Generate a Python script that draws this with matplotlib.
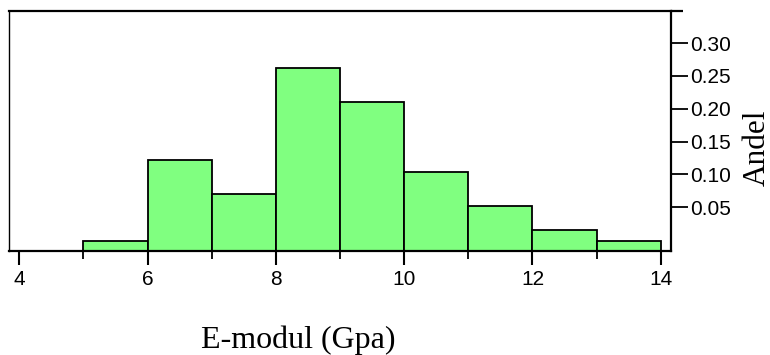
import numpy as np
import matplotlib.pyplot as plt

# histogram data: bin edges (GPa) and share of samples per bin
bin_edges = [5, 6, 7, 8, 9, 10, 11, 12, 13, 14]
andel = [0.0148, 0.1385, 0.0872, 0.278, 0.226, 0.1207, 0.069, 0.0325, 0.0148]

x_ticks = [4, 6, 8, 10, 12, 14]
x_minor = [5, 7, 9, 11, 13]
y_tick_labels = ['0.05', '0.10', '0.15', '0.20', '0.25', '0.30']
# the tick labels in the source sit a bit above the bar baseline
label_offset = 0.0165

fig = plt.figure(figsize=(7.7, 3.55), dpi=100)
ax = fig.add_axes([9 / 770, 1 - 251 / 355, 662 / 770, 240 / 355])

widths = np.diff(bin_edges)
ax.bar(bin_edges[:-1], andel, width=widths, align='edge',
       color='#80ff80', edgecolor='black', linewidth=1.3, zorder=2)

ax.set_xlim(3.84, 14.16)
ax.set_ylim(0, 0.3652)

ax.set_xticks(x_ticks)
ax.set_xticks(x_minor, minor=True)
ax.tick_params(axis='x', which='major', length=10, width=1.5, pad=4,
               labelsize=15, direction='out')
ax.tick_params(axis='x', which='minor', length=6, width=1.3, direction='out')

ax.yaxis.tick_right()
y_vals = np.array([float(t) for t in y_tick_labels]) + label_offset
ax.set_yticks(y_vals, labels=y_tick_labels)
ax.tick_params(axis='y', length=12, width=1.3, pad=2, labelsize=15,
               direction='out')

for lbl in ax.get_xticklabels() + ax.get_yticklabels():
    lbl.set_fontfamily(['Liberation Sans', 'DejaVu Sans'])

for side in ['top', 'right', 'bottom']:
    ax.spines[side].set_linewidth(1.6)
ax.spines['left'].set_linewidth(1.0)
# top border runs a little past the right spine
ax.plot([1, 1.018], [1, 1], transform=ax.transAxes, color='black',
        linewidth=1.6, clip_on=False, solid_capstyle='butt')

fig.text(298 / 770, 7 / 355, 'E-modul (Gpa)', ha='center', va='baseline',
         fontsize=23, family=['Liberation Serif', 'DejaVu Serif'])
fig.text(757 / 770, 1 - 148 / 355, 'Andel', rotation=90, ha='center',
         va='center', fontsize=22.5, family=['Liberation Serif', 'DejaVu Serif'])

fig.savefig('out.png', dpi=100)
